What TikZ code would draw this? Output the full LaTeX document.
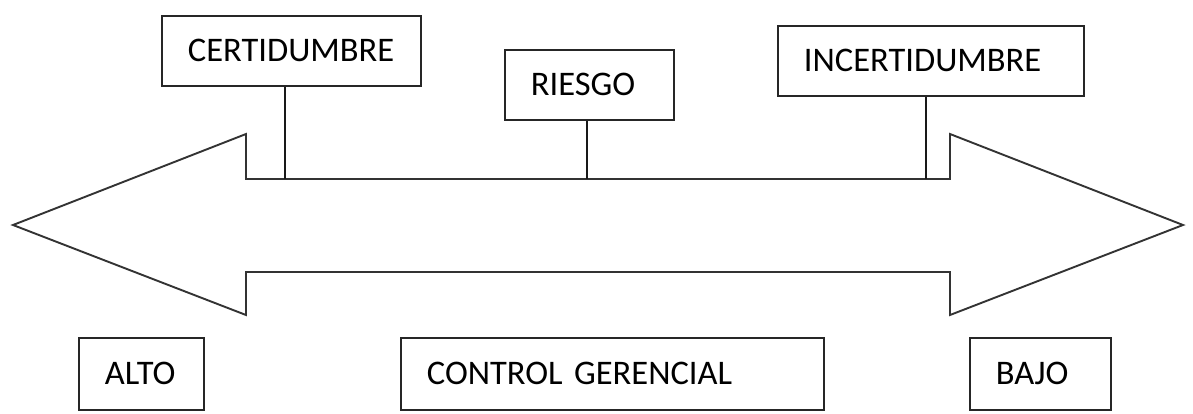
\documentclass[tikz,border=0pt]{standalone}
\usepackage{fontspec}
\setmainfont{Carlito}
\begin{document}
\begin{tikzpicture}[x=1pt, y=-1pt,
  label box/.style={draw=black!85, line width=1.8pt, fill=white,
    anchor=north west, inner xsep=26pt, inner ysep=0pt, align=left,
    font=\fontsize{34.5}{40}\selectfont},
  band/.style={draw=black!80, line width=1.9pt, line join=miter},
  tie/.style={draw=black!90, line width=1.6pt}]
  \useasboundingbox (0,0) rectangle (1193,413);

  % double-headed band
  \draw[band] (13,225) -- (246,134) -- (246,179) -- (950,179) -- (950,134)
    -- (1183,225) -- (950,315) -- (950,272) -- (246,272) -- (246,315) -- cycle;

  % upper labels
  \node[label box, text width=207pt, minimum height=70pt] (cert) at (161,15) {CERTIDUMBRE};
  \node[label box, text width=117pt, minimum height=70pt] (riesgo) at (504,49) {RIESGO};
  \node[label box, text width=254pt, minimum height=70pt] (incert) at (777,25) {INCERTIDUMBRE};

  % lower labels
  \node[label box, text width=73pt, minimum height=72pt] (alto) at (78,337) {ALTO};
  \node[label box, text width=371pt, minimum height=72pt] (control) at (400,337) {CONTROL GERENCIAL};
  \node[label box, text width=89pt, minimum height=72pt] (bajo) at (969,337) {BAJO};

  % attachment points on the upper edge of the band
  \coordinate (c1) at (285,179);
  \coordinate (c2) at (587,179);
  \coordinate (c3) at (926,179);

  \draw[tie] (cert.south -| c1) -- (c1);
  \draw[tie] (riesgo.south -| c2) -- (c2);
  \draw[tie] (incert.south -| c3) -- (c3);
\end{tikzpicture}
\end{document}
